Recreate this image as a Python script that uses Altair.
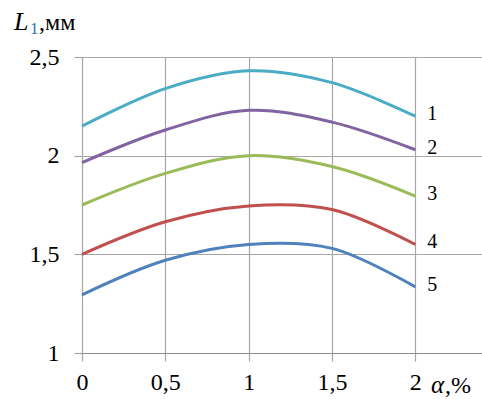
import altair as alt
import pandas as pd

# Alloying content, %
alpha = [0, 0.5, 1, 1.5, 2]

# Length L1, mm for curves 1..5
curve_names = ["1", "2", "3", "4", "5"]
curve_values = [
    [2.15, 2.34, 2.43, 2.37, 2.20],
    [1.965, 2.13, 2.23, 2.17, 2.03],
    [1.75, 1.91, 2.00, 1.945, 1.795],
    [1.50, 1.665, 1.745, 1.727, 1.55],
    [1.295, 1.47, 1.55, 1.53, 1.335],
]
curve_colors = ["#4BACC6", "#8064A2", "#9BBB59", "#C0504D", "#4F81BD"]

x_ticks = [0, 0.5, 1, 1.5, 2]
y_ticks = [1, 1.5, 2, 2.5]

rows = []
for name, vals in zip(curve_names, curve_values):
    for a, v in zip(alpha, vals):
        rows.append({"alpha": a, "L1": v, "curve": name})
df = pd.DataFrame(rows)
ends = df[df["alpha"] == alpha[-1]]

FONT = "Liberation Serif"
W, H = 400, 296

x_scale = alt.Scale(domain=[0, 2.4], nice=False, zero=False)
y_scale = alt.Scale(domain=[1, 2.5], nice=False, zero=False)
color_scale = alt.Scale(domain=curve_names, range=curve_colors)

label_expr = "replace(format(datum.value, ''), '.', ',')"

lines = alt.Chart(df).mark_line(strokeWidth=3, interpolate="catmull-rom").encode(
    x=alt.X("alpha:Q", scale=x_scale,
            axis=alt.Axis(values=x_ticks, title=None, labelExpr=label_expr,
                          grid=True, gridColor="#a6a6a6", gridWidth=1.2,
                          domain=True, domainColor="#8c8c8c", domainWidth=1.2,
                          ticks=True, tickSize=8, tickColor="#a6a6a6", tickWidth=1.2,
                          labelFont=FONT, labelFontSize=24, labelColor="#000",
                          labelFlush=False, labelPadding=9)),
    y=alt.Y("L1:Q", scale=y_scale,
            axis=alt.Axis(values=y_ticks, title=None, labelExpr=label_expr,
                          grid=True, gridColor="#a6a6a6", gridWidth=1.2,
                          domain=False,
                          ticks=True, tickSize=8, tickColor="#a6a6a6", tickWidth=1.2,
                          labelFont=FONT, labelFontSize=24, labelColor="#000",
                          labelFlush=False, labelPadding=15)),
    color=alt.Color("curve:N", scale=color_scale, legend=None),
    detail="curve:N",
)

end_labels = alt.Chart(ends).mark_text(
    font=FONT, fontSize=20, align="left", baseline="middle", dx=12, dy=-2, color="#000"
).encode(
    x=alt.X("alpha:Q", scale=x_scale),
    y=alt.Y("L1:Q", scale=y_scale),
    text="curve:N",
)

# Axis captions built from separate text pieces (italic symbol, subscript, units)
def caption(text, x, y, size, style="normal", color="#000"):
    return alt.Chart(pd.DataFrame({"t": [text]})).mark_text(
        font=FONT, fontSize=size, fontStyle=style, align="left",
        baseline="alphabetic", color=color,
    ).encode(x=alt.value(x), y=alt.value(y), text="t:N")

y_caption = (
    caption("L", -68, -27, 26, "italic")
    + caption("1", -52, -23, 17, "normal", "#2E75B6")
    + caption(",мм", -43, -27, 24)
)
x_caption = caption("α", 349, 336, 25, "italic") + caption(",%", 363, 336, 24)

chart = alt.layer(lines, end_labels, y_caption, x_caption).properties(
    width=W, height=H,
    autosize=alt.AutoSizeParams(type="none"),
    padding={"left": 82, "top": 57, "right": 0, "bottom": 46},
).configure_view(stroke=None).configure(background="white")

chart.save("out.html", embed_options={"renderer": "svg", "actions": False})
